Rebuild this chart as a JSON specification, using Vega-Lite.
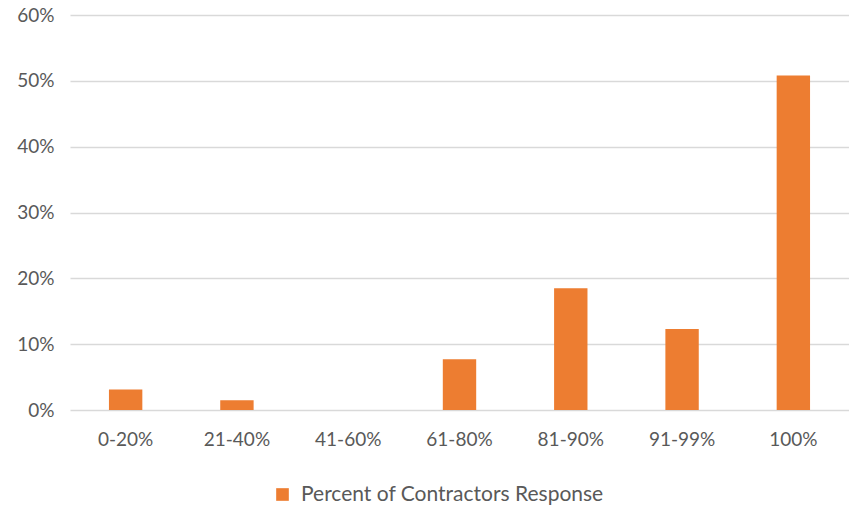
{
  "$schema": "https://vega.github.io/schema/vega-lite/v6.json",
  "autosize": "none",
  "width": 779,
  "height": 395,
  "padding": {"left": 70, "top": 15, "right": 0, "bottom": 97},
  "background": "white",
  "config": {
    "font": "Lato",
    "view": {"stroke": null},
    "axis": {"labelFont": "Lato", "labelColor": "#595959", "labelFontSize": 19, "gridColor": "#D9D9D9", "gridWidth": 1.3, "domain": false, "ticks": false},
    "legend": {"labelFont": "Lato", "labelColor": "#595959", "labelFontSize": 21, "labelLimit": 500}
  },
  "data": {
    "values": [
      {"range": "0-20%", "value": 0.031, "series": "Percent of Contractors Response"},
      {"range": "21-40%", "value": 0.015, "series": "Percent of Contractors Response"},
      {"range": "41-60%", "value": 0.0, "series": "Percent of Contractors Response"},
      {"range": "61-80%", "value": 0.077, "series": "Percent of Contractors Response"},
      {"range": "81-90%", "value": 0.185, "series": "Percent of Contractors Response"},
      {"range": "91-99%", "value": 0.123, "series": "Percent of Contractors Response"},
      {"range": "100%", "value": 0.508, "series": "Percent of Contractors Response"}
    ]
  },
  "mark": {"type": "bar"},
  "encoding": {
    "x": {
      "field": "range", "type": "nominal", "sort": null,
      "scale": {"paddingInner": 0.7, "paddingOuter": 0.35},
      "axis": {"title": null, "labelAngle": 0, "labelPadding": 20, "grid": false}
    },
    "y": {
      "field": "value", "type": "quantitative",
      "scale": {"domain": [0, 0.6], "nice": false},
      "axis": {"title": null, "format": ".0%", "values": [0, 0.1, 0.2, 0.3, 0.4, 0.5, 0.6], "labelPadding": 16}
    },
    "color": {
      "field": "series", "type": "nominal",
      "scale": {"range": ["#ED7D31"]},
      "legend": {"title": null, "orient": "none", "legendX": 202, "legendY": 469, "symbolType": "square", "symbolSize": 160, "symbolStrokeWidth": 0, "symbolOpacity": 1, "labelOffset": 8}
    }
  }
}
